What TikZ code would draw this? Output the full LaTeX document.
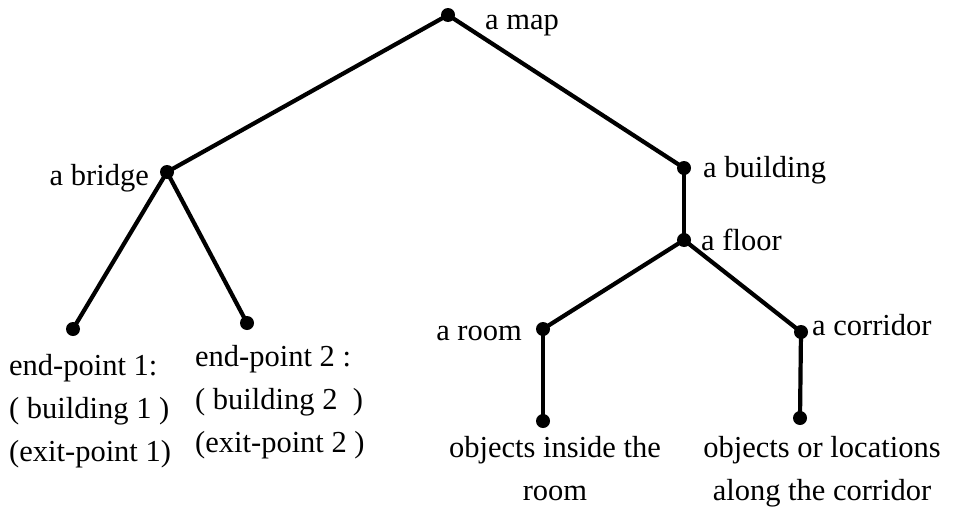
\documentclass[tikz,border=0pt]{standalone}
\usepackage{fontspec}
\setmainfont{Liberation Serif}
\begin{document}
\begin{tikzpicture}[x=1pt,y=-1pt,
  dot/.style={circle,fill=black,inner sep=0pt,minimum size=14pt},
  branch/.style={line width=4.2pt},
  lbl/.style={inner sep=0pt,font=\fontsize{30.5}{43}\selectfont},
  every node/.append style={text=black}]
\useasboundingbox (0,0) rectangle (955,506);
% dots
\node[dot] (map) at (448,15) {};
\node[dot] (bridge) at (167,172) {};
\node[dot] (building) at (684,168) {};
\node[dot] (floor) at (684,240) {};
\node[dot] (e1) at (73,329) {};
\node[dot] (e2) at (247,323) {};
\node[dot] (room) at (543,329) {};
\node[dot] (corr) at (801,332) {};
\node[dot] (objr) at (543,421) {};
\node[dot] (objc) at (800,418) {};
% connectors
\draw[branch] (map.center) -- (bridge.center);
\draw[branch] (map.center) -- (building.center);
\draw[branch] (bridge.center) -- (e1.center);
\draw[branch] (bridge.center) -- (e2.center);
\draw[branch] (building.center) -- (floor.center);
\draw[branch] (floor.center) -- (room.center);
\draw[branch] (floor.center) -- (corr.center);
\draw[branch] (room.center) -- (objr.center);
\draw[branch] (corr.center) -- (objc.center);
% labels
\node[lbl,anchor=base west] (tmap) at (485,29) {a map};
\node[lbl,anchor=base east] (tbridge) at (149,185) {a bridge};
\node[lbl,anchor=base west] (tbuilding) at (703,177) {a building};
\node[lbl,anchor=base west] (tfloor) at (701,250) {a floor};
\node[lbl,anchor=base east] (troom) at (522,340) {a room};
\node[lbl,anchor=base west] (tcorr) at (812,335) {a corridor};
\node[lbl,anchor=base west,align=left] (te1) at (9,461) {end-point 1:\\( building 1 )\\(exit-point 1)};
\node[lbl,anchor=base west,align=left] (te2) at (195,452) {end-point 2 :\\( building 2~ )\\(exit-point 2 )};
\node[lbl,anchor=base,align=center] (tobjr) at (555,500) {objects inside the\\room};
\node[lbl,anchor=base,align=center] (tobjc) at (822,500) {objects or locations\\along the corridor};
\end{tikzpicture}
\end{document}
